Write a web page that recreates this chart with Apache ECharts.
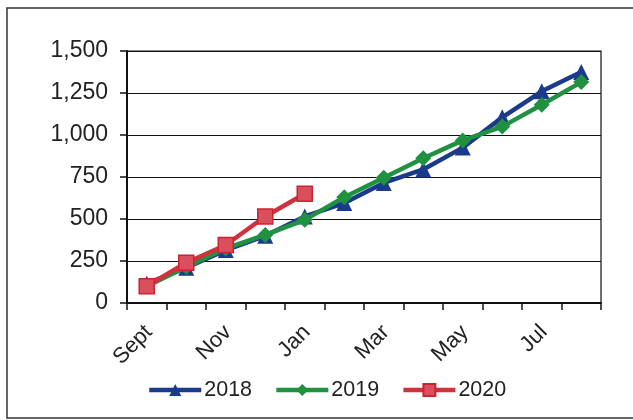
<!DOCTYPE html>
<html>
<head>
<meta charset="utf-8">
<script src="https://cdn.jsdelivr.net/npm/echarts@6/dist/echarts.min.js"></script>
<style>
html,body{margin:0;padding:0;background:#fff;}
#c{width:633px;height:420px;}
</style>
</head>
<body>
<div id="c"></div>
<script>
const months = ['Sept','Oct','Nov','Dec','Jan','Feb','Mar','Apr','May','Jun','Jul','Aug'];
const s2018 = [115, 210, 315, 400, 515, 595, 715, 795, 925, 1105, 1260, 1375];
const s2019 = [100, 215, 325, 405, 495, 630, 745, 862, 968, 1050, 1180, 1315];
const s2020 = [100, 240, 345, 515, 650];
const yTicks = [0, 250, 500, 750, 1000, 1250, 1500];

const FONT = '"Liberation Sans", Arial, sans-serif';
const chart = echarts.init(document.getElementById('c'), null, {renderer: 'canvas'});
chart.setOption({
  animation: false,
  backgroundColor: '#fff',
  textStyle: {fontFamily: FONT},
  graphic: [{
    type: 'rect',
    shape: {x: 7, y: 8, width: 700, height: 410},
    style: {fill: 'none', stroke: '#333', lineWidth: 1.5},
    silent: true
  }],
  grid: {left: 127, right: 32, top: 51, bottom: 117, show: true, borderColor: '#111', borderWidth: 1.2, backgroundColor: 'transparent'},
  legend: {
    top: 374,
    left: 142,
    itemWidth: 52,
    itemHeight: 15,
    itemGap: 22,
    lineStyle: {width: 4.5},
    textStyle: {fontSize: 21.5, color: '#222', fontFamily: FONT, padding: [0, 0, 0, -2]},
    data: ['2018', '2019', '2020']
  },
  xAxis: {
    type: 'category',
    data: months,
    boundaryGap: true,
    axisLine: {show: true, lineStyle: {color: '#111', width: 2}},
    axisTick: {show: true, interval: 0, length: 7, lineStyle: {color: '#111', width: 1.5}},
    axisLabel: {interval: 1, rotate: 45, fontSize: 22, color: '#222', margin: 28, padding: [0, -3, 0, 0], fontFamily: FONT},
    splitLine: {show: false}
  },
  yAxis: {
    type: 'value',
    min: yTicks[0],
    max: yTicks[yTicks.length - 1],
    interval: 250,
    axisLine: {show: true, lineStyle: {color: '#111', width: 2}},
    axisTick: {show: true, length: 7, lineStyle: {color: '#111', width: 1.5}},
    axisLabel: {fontSize: 23, color: '#222', margin: 19, fontFamily: FONT,
      formatter: v => v.toLocaleString('en-US')},
    splitLine: {show: true, lineStyle: {color: '#111', width: 1.2}}
  },
  series: [
    {
      name: '2018', type: 'line', data: s2018,
      symbol: 'triangle', symbolSize: 16,
      lineStyle: {color: '#1c3a8c', width: 4.5},
      itemStyle: {color: '#1c3a8c'},
      z: 2
    },
    {
      name: '2019', type: 'line', data: s2019,
      symbol: 'diamond', symbolSize: 16,
      lineStyle: {color: '#1f9141', width: 4.5},
      itemStyle: {color: '#1f9141'},
      z: 3
    },
    {
      name: '2020', type: 'line', data: s2020,
      symbol: 'rect', symbolSize: 15,
      lineStyle: {color: '#d0323d', width: 4.5},
      itemStyle: {color: '#d9505c', borderColor: '#cc2233', borderWidth: 1.5},
      z: 4
    }
  ]
});
</script>
</body>
</html>
